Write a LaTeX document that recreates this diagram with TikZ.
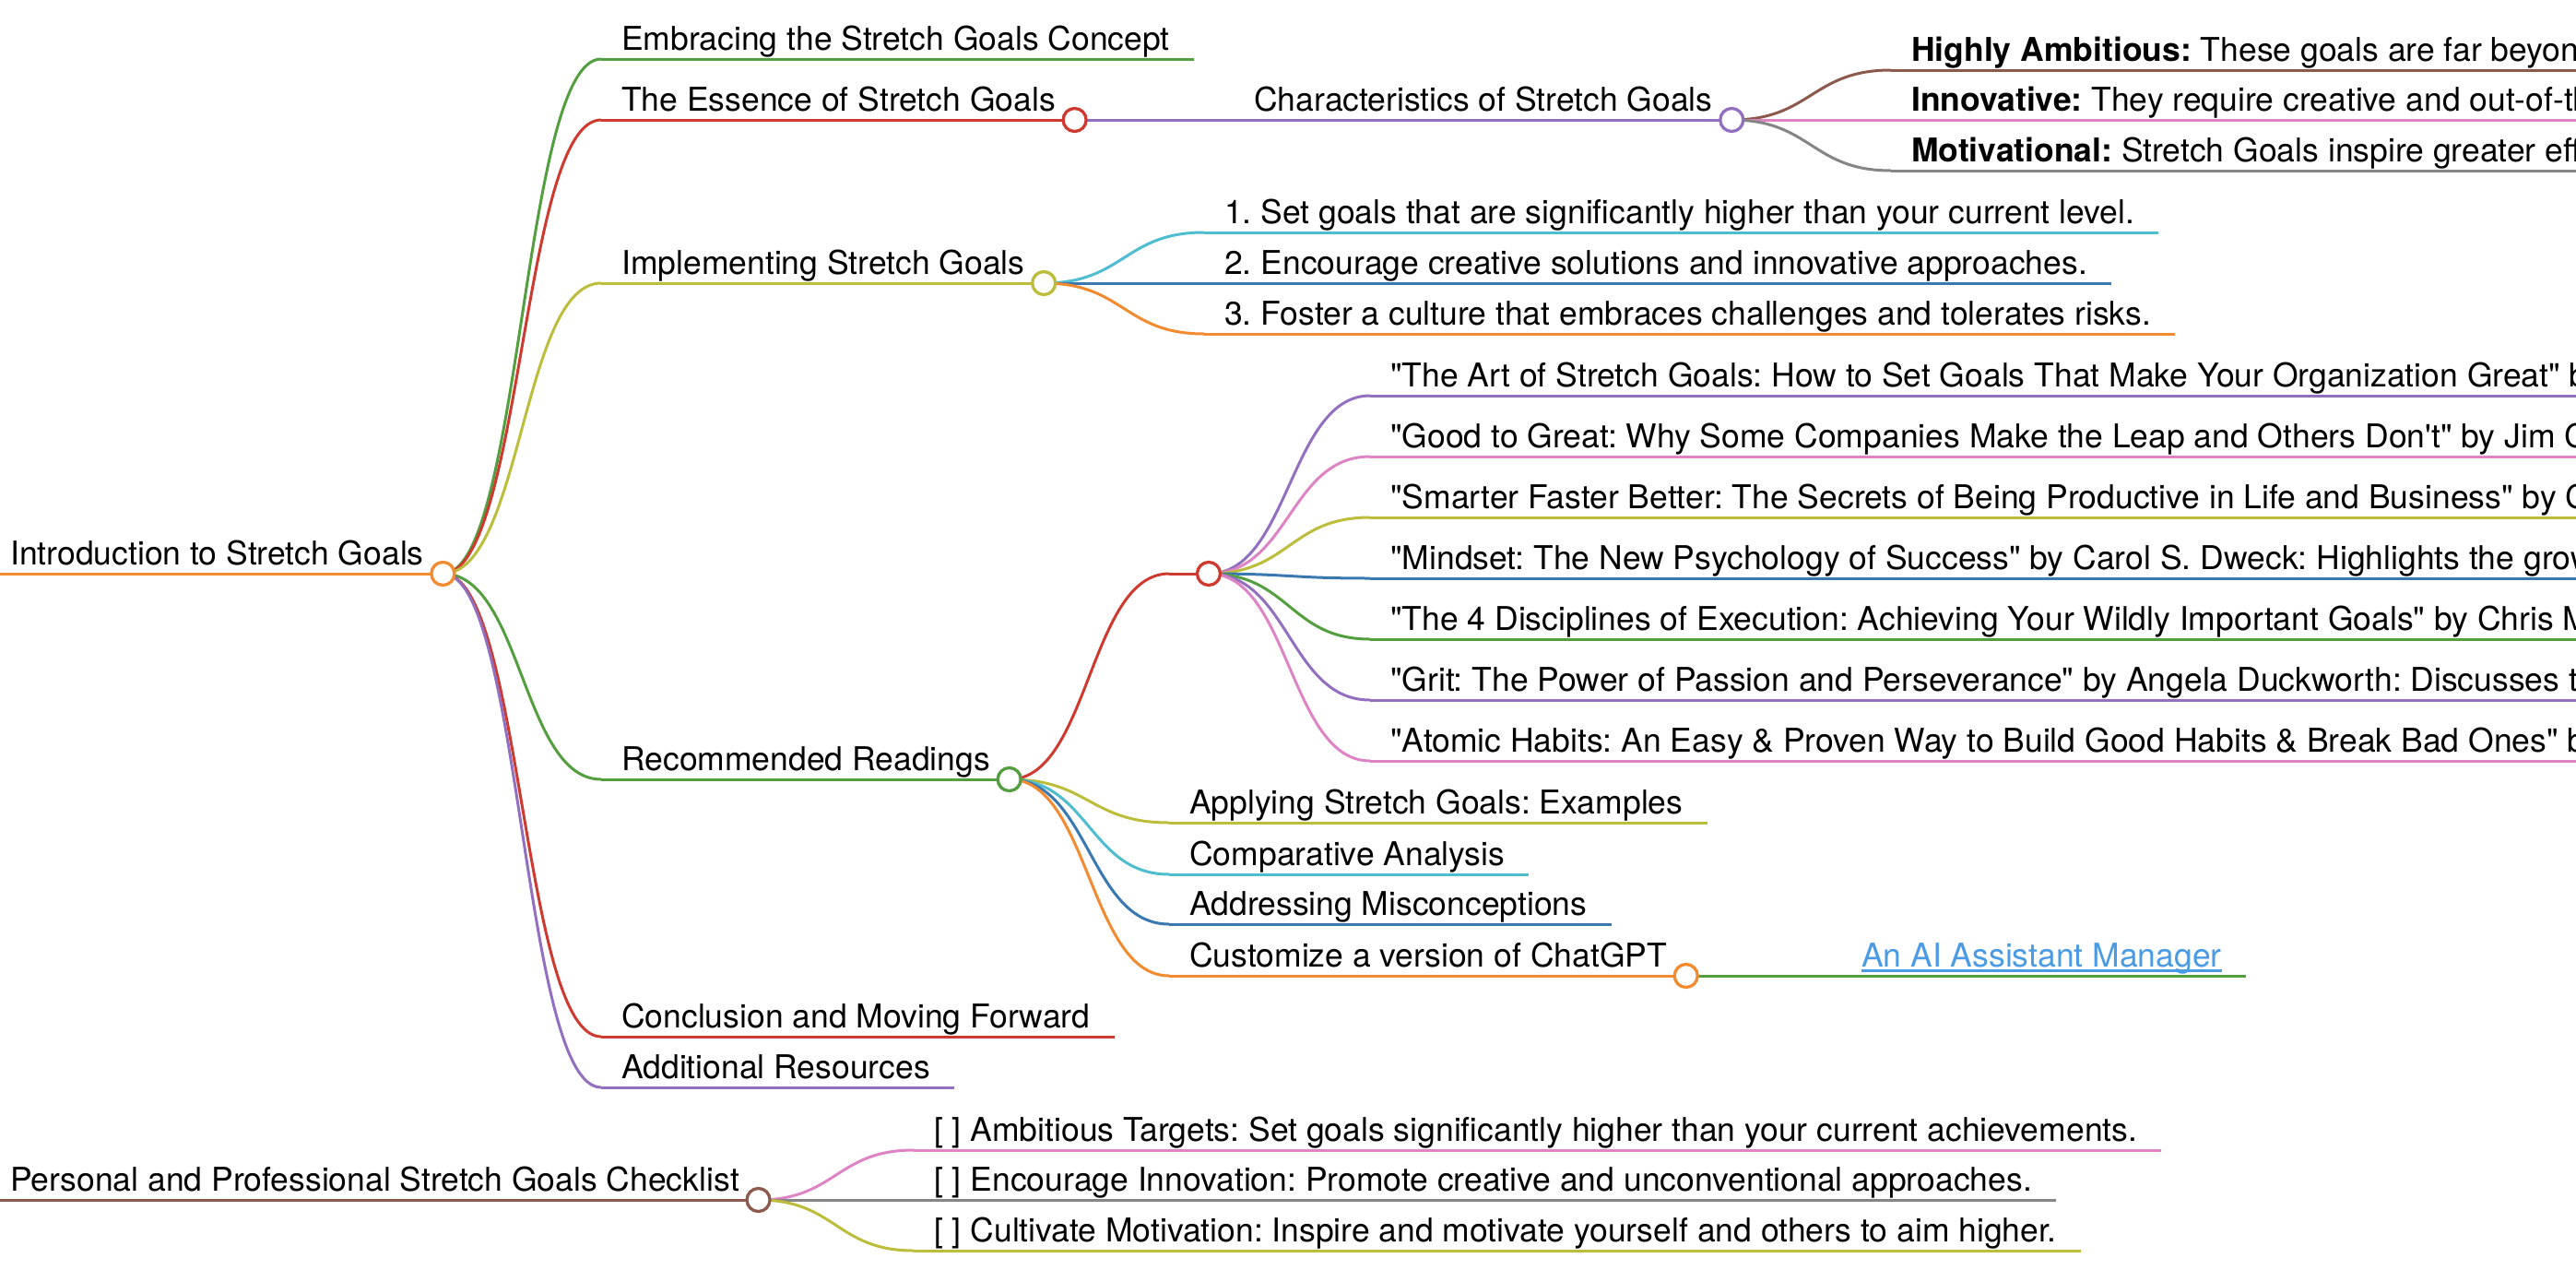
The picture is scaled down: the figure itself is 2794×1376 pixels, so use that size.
\documentclass[tikz,border=0pt]{standalone}
\usepackage{fontspec}
\setmainfont{TeX Gyre Heros}[Ligatures=TeXOff]
\usetikzlibrary{calc}
\frenchspacing
\definecolor{cBlue}{HTML}{3A78B2}
\definecolor{cOrange}{HTML}{F28A30}
\definecolor{cGreen}{HTML}{539E3E}
\definecolor{cRed}{HTML}{CF3A30}
\definecolor{cPurple}{HTML}{9270BF}
\definecolor{cBrown}{HTML}{8C5A4D}
\definecolor{cPink}{HTML}{DE84C5}
\definecolor{cGray}{HTML}{858585}
\definecolor{cOlive}{HTML}{BDBD3C}
\definecolor{cCyan}{HTML}{4DBDCF}
\definecolor{cLink}{HTML}{4A9BE3}
\tikzset{
  edge/.style={line width=3pt},
  lbl/.style={anchor=base west, inner sep=0pt, font=\fontsize{35.5}{42}\selectfont\frenchspacing},
  dot/.style={circle, fill=white, line width=3.3pt, minimum size=25pt, inner sep=0pt},
}
\newcommand\mmleaf[5]{%
  \coordinate (#1s) at (#2,#3);
  \node[lbl] (#1) at (#2+22,#3-10) {#5};
  \draw[edge,draw=#4] (#1s) -- (#1.east |- #1s) -- ++(26,0);
}
\newcommand\mmbranch[5]{%
  \coordinate (#1s) at (#2,#3);
  \node[lbl] (#1) at (#2+22,#3-10) {#5};
  \coordinate (#1c) at ($(#1.east |- #1s)+(20.5,0)$);
  \draw[edge,draw=#4] (#1s) -- (#1c);
}
\newcommand\mmlink[3]{%
  \draw[edge,draw=#3] let \p1=(#1), \p2=(#2) in
    (\p1) .. controls ({0.5*\x1+0.5*\x2},\y1) and ({0.5*\x1+0.5*\x2},\y2) .. (\p2);
}
\begin{document}
\begin{tikzpicture}[x=1pt,y=-1pt]
\useasboundingbox (0,0) rectangle (2794,1376);
\fill[white] (0,0) rectangle (2794,1376);
\clip (0,0) rectangle (2794,1376);

% ---- root 1
\mmbranch{root}{-11}{622}{cOrange}{Introduction to Stretch Goals}

\mmleaf{emb}{652}{64}{cGreen}{Embracing the Stretch Goals Concept}
\mmbranch{ess}{652}{130}{cRed}{The Essence of Stretch Goals}
\mmbranch{imp}{652}{307}{cOlive}{Implementing Stretch Goals}
\mmbranch{rec}{652}{845}{cGreen}{Recommended Readings}
\mmleaf{con}{652}{1124}{cRed}{Conclusion and Moving Forward}
\mmleaf{add}{652}{1179}{cPurple}{Additional Resources}

\mmlink{rootc}{embs}{cGreen}
\mmlink{rootc}{esss}{cRed}
\mmlink{rootc}{imps}{cOlive}
\mmlink{rootc}{recs}{cGreen}
\mmlink{rootc}{cons}{cRed}
\mmlink{rootc}{adds}{cPurple}

% Essence
\mmbranch{cha}{1338}{130}{cPurple}{Characteristics of Stretch Goals}
\mmlink{essc}{chas}{cPurple}
\mmleaf{ch1}{2051}{76}{cBrown}{\textbf{Highly Ambitious:} These goals are far beyond current capabilities and performance levels.}
\mmleaf{ch2}{2051}{130}{cPink}{\textbf{Innovative:} They require creative and out-of-the-box thinking to achieve.}
\mmleaf{ch3}{2051}{185}{cGray}{\textbf{Motivational:} Stretch Goals inspire greater effort and commitment from teams.}
\mmlink{chac}{ch1s}{cBrown}
\mmlink{chac}{ch2s}{cPink}
\mmlink{chac}{ch3s}{cGray}

% Implementing
\mmleaf{im1}{1306}{252}{cCyan}{1. Set goals that are significantly higher than your current level.}
\mmleaf{im2}{1306}{307}{cBlue}{2. Encourage creative solutions and innovative approaches.}
\mmleaf{im3}{1306}{362}{cOrange}{3. Foster a culture that embraces challenges and tolerates risks.}
\mmlink{impc}{im1s}{cCyan}
\mmlink{impc}{im2s}{cBlue}
\mmlink{impc}{im3s}{cOrange}

% Recommended readings
\coordinate (emps) at (1268,622);
\coordinate (empc) at (1311,622);
\draw[edge,draw=cRed] (emps) -- (empc);
\mmlink{recc}{emps}{cRed}
\mmleaf{bk1}{1486}{429}{cPurple}{"The Art of Stretch Goals: How to Set Goals That Make Your Organization Great" by Samuel Bacharach: Explores the topic.}
\mmleaf{bk2}{1486}{495}{cPink}{"Good to Great: Why Some Companies Make the Leap and Others Don't" by Jim Collins: Examines great companies.}
\mmleaf{bk3}{1486}{561}{cOlive}{"Smarter Faster Better: The Secrets of Being Productive in Life and Business" by Charles Duhigg: Productivity.}
\mmleaf{bk4}{1486}{627}{cBlue}{"Mindset: The New Psychology of Success" by Carol S. Dweck: Highlights the growth mindset and its role.}
\mmleaf{bk5}{1486}{693}{cGreen}{"The 4 Disciplines of Execution: Achieving Your Wildly Important Goals" by Chris McChesney: Execution.}
\mmleaf{bk6}{1486}{759}{cPurple}{"Grit: The Power of Passion and Perseverance" by Angela Duckworth: Discusses the power of grit and passion.}
\mmleaf{bk7}{1486}{825}{cPink}{"Atomic Habits: An Easy \& Proven Way to Build Good Habits \& Break Bad Ones" by James Clear: Habits.}
\mmlink{empc}{bk1s}{cPurple}
\mmlink{empc}{bk2s}{cPink}
\mmlink{empc}{bk3s}{cOlive}
\mmlink{empc}{bk4s}{cBlue}
\mmlink{empc}{bk5s}{cGreen}
\mmlink{empc}{bk6s}{cPurple}
\mmlink{empc}{bk7s}{cPink}

\mmleaf{app}{1268}{892}{cOlive}{Applying Stretch Goals: Examples}
\mmleaf{cmp}{1268}{948}{cCyan}{Comparative Analysis}
\mmleaf{adr}{1268}{1002}{cBlue}{Addressing Misconceptions}
\mmbranch{cus}{1268}{1058}{cOrange}{Customize a version of ChatGPT}
\mmlink{recc}{apps}{cOlive}
\mmlink{recc}{cmps}{cCyan}
\mmlink{recc}{adrs}{cBlue}
\mmlink{recc}{cuss}{cOrange}

\mmleaf{lnk}{1997}{1058}{cGreen}{\color{cLink}An AI Assistant Manager}
\draw[cLink,line width=2.2pt] ($(lnk.base west)+(0,4.5)$) -- ($(lnk.base east)+(0,4.5)$);
\mmlink{cusc}{lnks}{cGreen}

% ---- root 2
\mmbranch{chk}{-11}{1301}{cBrown}{Personal and Professional Stretch Goals Checklist}
\mmleaf{ck1}{991}{1247}{cPink}{[ ] Ambitious Targets: Set goals significantly higher than your current achievements.}
\mmleaf{ck2}{991}{1301}{cGray}{[ ] Encourage Innovation: Promote creative and unconventional approaches.}
\mmleaf{ck3}{991}{1356}{cOlive}{[ ] Cultivate Motivation: Inspire and motivate yourself and others to aim higher.}
\mmlink{chkc}{ck1s}{cPink}
\mmlink{chkc}{ck2s}{cGray}
\mmlink{chkc}{ck3s}{cOlive}

% ---- circles on top
\node[dot,draw=cOrange] (rootdot) at (rootc) {};
\node[dot,draw=cRed] (essdot) at (essc) {};
\node[dot,draw=cPurple] (chadot) at (chac) {};
\node[dot,draw=cOlive] (impdot) at (impc) {};
\node[dot,draw=cGreen] (recdot) at (recc) {};
\node[dot,draw=cRed] (empdot) at (empc) {};
\node[dot,draw=cOrange] (cusdot) at (cusc) {};
\node[dot,draw=cBrown] (chkdot) at (chkc) {};
\end{tikzpicture}
\end{document}
